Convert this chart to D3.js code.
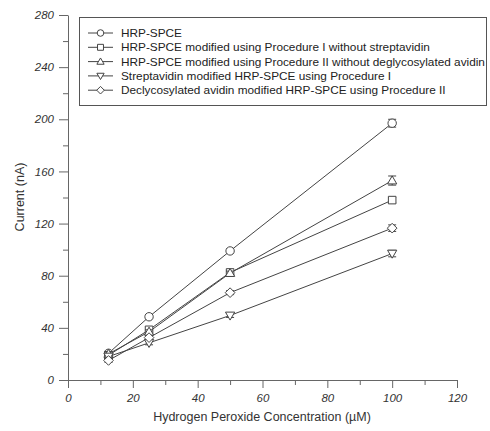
<!DOCTYPE html>
<html lang="en">
<head>
<meta charset="utf-8">
<script src="https://cdn.jsdelivr.net/npm/d3@7"></script>
<style>
  body { margin: 0; background: #fff; }
  svg { font-family: "Liberation Sans", Arial, sans-serif; }
</style>
</head>
<body>
<svg width="490" height="431"></svg>
<script>
// concentrations (uM)
var conc = [12.5, 25, 50, 100];

var seriesNames = [
  "HRP-SPCE",
  "HRP-SPCE modified using Procedure I without streptavidin",
  "HRP-SPCE modified using Procedure II without deglycosylated avidin",
  "Streptavidin modified HRP-SPCE using Procedure I",
  "Declycosylated avidin modified HRP-SPCE using Procedure II"
];
var seriesSymbols = ["circle", "square", "triangleUp", "triangleDown", "diamond"];

var hrpSpce      = [20.5, 48.5, 99, 197];
var procINoStrep = [19, 38.5, 82.5, 138];
var procIINoAvid = [20, 37, 82, 153];
var strepProcI   = [18, 28.5, 49.5, 97];
var avidProcII   = [15, 32.5, 67, 116.5];
var values = [hrpSpce, procINoStrep, procIINoAvid, strepProcI, avidProcII];

var errHrp   = [1.5, 1.5, 1.5, 3];
var errProcI = [1.5, 1.5, 1.5, 2];
var errProcII= [1.5, 1.5, 1.5, 3.5];
var errStrep = [1.5, 1.5, 1.5, 2.5];
var errAvid  = [1.5, 1.5, 1.5, 2.5];
var errors = [errHrp, errProcI, errProcII, errStrep, errAvid];

var xTicks = [0, 20, 40, 60, 80, 100, 120];
var yTicks = [0, 40, 80, 120, 160, 200, 240, 280];

var svg = d3.select("svg");
var ink = "#444";

var x = d3.scaleLinear().domain([0, 120]).range([68, 457]);
var y = d3.scaleLinear().domain([0, 280]).range([380, 15]);

// minor ticks
svg.append("g")
  .attr("transform", "translate(0,380)")
  .call(d3.axisBottom(x).tickValues(d3.range(10, 120, 20)).tickSize(5).tickFormat(""))
  .call(g => g.select(".domain").remove());
svg.append("g")
  .attr("transform", "translate(68,0)")
  .call(d3.axisLeft(y).tickValues(d3.range(20, 280, 40)).tickSize(5).tickFormat(""))
  .call(g => g.select(".domain").remove());

svg.append("g")
  .attr("transform", "translate(0,380)")
  .call(d3.axisBottom(x).tickValues(xTicks).tickSize(8).tickSizeOuter(0).tickPadding(6));
svg.append("g")
  .attr("transform", "translate(68,0)")
  .call(d3.axisLeft(y).tickValues(yTicks).tickSize(9).tickSizeOuter(0).tickPadding(5));

svg.selectAll(".domain, .tick line").attr("stroke", "#666");
svg.selectAll(".tick text")
  .attr("font-size", 11.5)
  .attr("font-style", "italic")
  .attr("fill", "#333")
  .attr("font-family", "Liberation Sans, Arial, sans-serif");

svg.append("text")
  .attr("x", 262).attr("y", 421)
  .attr("text-anchor", "middle")
  .attr("font-size", 12.5)
  .attr("fill", "#333")
  .text("Hydrogen Peroxide Concentration (\u00b5M)");

svg.append("text")
  .attr("transform", "translate(24,197) rotate(-90)")
  .attr("text-anchor", "middle")
  .attr("font-size", 12.5)
  .attr("fill", "#333")
  .text("Current (nA)");

function drawMarker(g, kind, cx, cy, r) {
  if (kind === "circle") {
    g.append("circle").attr("cx", cx).attr("cy", cy).attr("r", r);
    return;
  }
  var pts;
  if (kind === "square") pts = [[-r*0.9, -r*0.9], [r*0.9, -r*0.9], [r*0.9, r*0.9], [-r*0.9, r*0.9]];
  if (kind === "triangleUp") pts = [[0, -r*1.1], [r*1.1, r*0.8], [-r*1.1, r*0.8]];
  if (kind === "triangleDown") pts = [[0, r*1.1], [r*1.1, -r*0.8], [-r*1.1, -r*0.8]];
  if (kind === "diamond") pts = [[0, -r*1.15], [r*1.15, 0], [0, r*1.15], [-r*1.15, 0]];
  g.append("polygon")
    .attr("points", pts.map(p => (cx + p[0]) + "," + (cy + p[1])).join(" "));
}

var line = d3.line()
  .x(d => x(d[0]))
  .y(d => y(d[1]));

values.forEach(function(vals, i) {
  var pts = conc.map((c, j) => [c, vals[j]]);
  svg.append("path")
    .datum(pts)
    .attr("d", line)
    .attr("fill", "none")
    .attr("stroke", ink)
    .attr("stroke-width", 1);
});

values.forEach(function(vals, i) {
  var g = svg.append("g").attr("stroke", ink).attr("stroke-width", 1).attr("fill", "#fff");
  conc.forEach(function(c, j) {
    var cx = x(c), e = errors[i][j];
    var y0 = y(vals[j] - e), y1 = y(vals[j] + e);
    g.append("line").attr("x1", cx).attr("x2", cx).attr("y1", y0).attr("y2", y1);
    g.append("line").attr("x1", cx - 4).attr("x2", cx + 4).attr("y1", y0).attr("y2", y0);
    g.append("line").attr("x1", cx - 4).attr("x2", cx + 4).attr("y1", y1).attr("y2", y1);
    drawMarker(g, seriesSymbols[i], cx, y(vals[j]), 4.2);
  });
});

// legend
var legend = svg.append("g");
legend.append("rect")
  .attr("x", 79.5).attr("y", 17.5)
  .attr("width", 407).attr("height", 88)
  .attr("fill", "#fff")
  .attr("stroke", "#555");

seriesNames.forEach(function(name, i) {
  var ly = 33 + i * 14.3;
  var g = legend.append("g").attr("stroke", ink).attr("fill", "#fff");
  g.append("line").attr("x1", 88).attr("x2", 113).attr("y1", ly).attr("y2", ly);
  drawMarker(g, seriesSymbols[i], 100.5, ly, 3.3);
  legend.append("text")
    .attr("x", 121).attr("y", ly + 4)
    .attr("font-size", 11.8)
    .attr("fill", "#222")
    .text(name);
});
</script>
</body>
</html>
